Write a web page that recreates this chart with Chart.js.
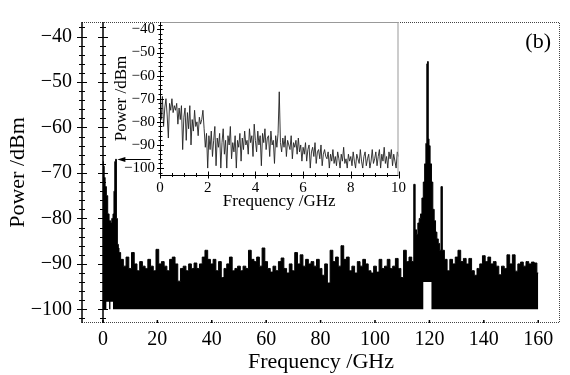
<!DOCTYPE html>
<html>
<head>
<meta charset="utf-8">
<script src="https://cdn.jsdelivr.net/npm/chart.js@4.4.1/dist/chart.umd.min.js"></script>
<style>
  body { margin: 0; background: #fff; }
  #wrap { position: relative; width: 570px; height: 375px; }
  #mainChart { position: absolute; left: 0; top: 0; }
  #insetChart { position: absolute; left: 100px; top: 8px; }
</style>
</head>
<body>
<div id="wrap">
  <canvas id="mainChart" width="570" height="375"></canvas>
  <canvas id="insetChart" width="310" height="215"></canvas>
</div>
<script>
// ---- data ----
// main spectrum, 0 - 160 GHz (dBm)
const lowBandFreq  = [0, 0.3, 0.6, 1, 1.5, 2, 2.5, 3, 3.5, 3.9, 4.2, 4.5, 4.8, 5.1, 5.5, 5.8];
const lowBandPower = [-67.5, -68.5, -71, -73, -75, -79, -80.5, -81, -80, -79, -74, -67.5, -67, -80, -85.7, -86.5];

const noiseBandAStart = 6; // 1 GHz bins, 6 .. 114 GHz
const noiseBandA = [
  -87.5, -89, -90.5, -88.5, -91, -87.5, -90, -91.5, -89.5, -90.5,
  -91, -89, -90.5, -91.5, -86.8, -90, -89.5, -90.5, -91.5, -89,
  -88.5, -90, -93.8, -91, -90.5, -91.5, -90, -91, -89.8, -91,
  -90, -88.5, -87, -89, -90, -89, -91.5, -89.5, -93, -91,
  -90, -88.5, -91.5, -91, -90.5, -91.5, -90.5, -91, -87, -89,
  -89.5, -88.5, -90.5, -86.5, -89.5, -91, -91.8, -90.5, -91.5, -89.5,
  -88.7, -91, -92, -90, -91.5, -87.5, -90, -88, -90.5, -89,
  -90, -89.5, -90.5, -89, -91, -92.5, -90, -94.2, -87, -89.5,
  -88.5, -90.5, -86, -89, -88.5, -91.5, -90.5, -92, -89.5, -90.5,
  -89, -90, -91.5, -92, -90.5, -91.8, -89, -91, -90.5, -89,
  -91, -90.5, -88.8, -91, -93, -87, -89.5, -88.5, -89.5
];

const peakFreq  = [114.5, 115, 115.5, 116, 116.5, 117, 117.5, 118, 118.5, 118.9, 119.2, 119.45, 119.7, 120, 120.5, 121, 121.5, 122, 122.5, 123, 123.5, 124, 124.5];
const peakPower = [-72.5, -82.5, -83.5, -81, -80, -79, -75.5, -72, -68, -63.5, -46, -45.5, -62.5, -64, -68, -72, -78, -80.5, -83, -84.5, -85.5, -87, -73];

const noiseBandBStart = 125; // 1 GHz bins, 125 .. 160 GHz
const noiseBandB = [
  -87, -89, -91.5, -89, -90, -88.5, -87, -89.5, -88.8, -90,
  -88.8, -91.5, -92.5, -91, -90, -88.2, -89.5, -88.5, -90, -89.5,
  -90.5, -92.4, -90.5, -91, -88, -90, -88, -91.6, -90, -89.6,
  -90.5, -89.5, -90, -89.6, -89.8, -92
];

const noiseFloor = -100;
// [from GHz, to GHz, lower edge of the filled trace]
const fillNotches = [[1.5, 2, -98.3], [3, 3.5, -98.3], [118, 120.5, -94]];

// inset spectrum, 0 - 10 GHz, 0.05 GHz bins
const insetStep = 0.05;
const insetPower = [
  -71, -79, -69, -82, -74, -70, -77, -87, -72, -75, -70, -76, -73, -75, -72, -81, -74, -79, -73, -92,
  -78, -74, -88, -76, -83, -73, -90, -79, -84, -75, -82, -80, -86, -78, -81, -79, -75, -83, -91, -85,
  -100, -86, -92, -84, -95, -88, -82, -99, -87, -91, -85, -100, -89, -83, -94, -88, -100, -86, -90, -82,
  -96, -89, -93, -86, -100, -88, -91, -85, -97, -87, -92, -84, -90, -88, -94, -83, -89, -86, -95, -81,
  -88, -93, -84, -90, -86, -99, -85, -89, -83, -92, -87, -86, -95, -84, -90, -88, -98, -86, -91, -85,
  -67, -89, -93, -87, -91, -86, -95, -88, -90, -92, -86, -96, -89, -91, -88, -94, -87, -93, -90, -97,
  -91, -94, -89, -97, -92, -90, -100, -93, -91, -95, -89, -98, -93, -92, -96, -90, -99, -94, -92, -95,
  -96, -93, -100, -94, -97, -92, -98, -95, -99, -93, -96, -100, -94, -97, -91, -98, -96, -100, -94, -97,
  -95, -99, -93, -97, -100, -94, -96, -98, -92, -97, -100, -95, -93, -99, -96, -94, -100, -97, -92, -98,
  -96, -93, -99, -95, -92, -100, -94, -97, -91, -98, -95, -100, -93, -96, -92, -99, -94, -97, -100, -93,
  -95
];

// axes
const xTickLabels = [0, 20, 40, 60, 80, 100, 120, 140, 160];
const yTickLabels = [-100, -90, -80, -70, -60, -50, -40];
const insetXTickLabels = [0, 2, 4, 6, 8, 10];
const arrowTail = { x: 17.5, y: -67 };
const arrowHead = { x: 5.3, y: -67 };

const SERIF = '"Liberation Serif", "Times New Roman", serif';
Chart.defaults.font.family = SERIF;
Chart.defaults.color = '#000';

// build points
const mainPoints = [];
lowBandFreq.forEach((f, i) => mainPoints.push({ x: f, y: lowBandPower[i] }));
noiseBandA.forEach((p, i) => mainPoints.push({ x: noiseBandAStart + i, y: p }));
peakFreq.forEach((f, i) => mainPoints.push({ x: f, y: peakPower[i] }));
noiseBandB.forEach((p, i) => mainPoints.push({ x: noiseBandBStart + i, y: p }));
const floorPoints = mainPoints.map(pt => {
  const n = fillNotches.find(b => pt.x >= b[0] && pt.x <= b[1]);
  return { x: pt.x, y: n ? n[2] : noiseFloor };
});
const insetPoints = insetPower.map((p, i) => ({ x: +(i * insetStep).toFixed(2), y: p }));

const minus = v => (v < 0 ? '\u2212' + Math.abs(v) : String(v));

// tick marks crossing a vertical axis line
function vTicks(ctx, xPix, yScale, from, to, major, minor) {
  for (let v = from; v <= to; v += 2) {
    const yp = Math.round(yScale.getPixelForValue(v)) + 0.5;
    const len = v % 10 === 0 ? major : minor;
    ctx.beginPath();
    ctx.moveTo(xPix - len, yp);
    ctx.lineTo(xPix + len, yp);
    ctx.stroke();
  }
}

const mainDeco = {
  id: 'mainDeco',
  afterDatasetsDraw(chart) {
    const { ctx, chartArea: a, scales: { x, y } } = chart;
    ctx.save();
    // dotted frame
    ctx.strokeStyle = '#444';
    ctx.lineWidth = 1;
    ctx.setLineDash([1, 1]);
    ctx.beginPath();
    ctx.moveTo(a.left, a.top + 0.5);
    ctx.lineTo(a.right - 0.5, a.top + 0.5);
    ctx.lineTo(a.right - 0.5, a.bottom - 0.5);
    ctx.lineTo(a.left, a.bottom - 0.5);
    ctx.stroke();
    ctx.setLineDash([]);

    // left axis and zero-frequency line
    ctx.strokeStyle = '#000';
    ctx.lineWidth = 1.5;
    const zx = Math.round(x.getPixelForValue(0));
    [a.left, zx].forEach(px => {
      ctx.beginPath();
      ctx.moveTo(px, a.top);
      ctx.lineTo(px, a.bottom);
      ctx.stroke();
    });
    ctx.lineWidth = 1;
    vTicks(ctx, a.left, y, -102, -38, 5, 3);
    vTicks(ctx, zx, y, -102, -38, 5, 3);

    // bottom tick dots
    ctx.lineWidth = 1.5;
    xTickLabels.forEach(v => {
      const px = x.getPixelForValue(v);
      ctx.beginPath();
      ctx.moveTo(px, a.bottom - 3);
      ctx.lineTo(px, a.bottom);
      ctx.stroke();
    });

    // arrow to the 5 GHz line
    const tx = x.getPixelForValue(arrowTail.x), ty = Math.round(y.getPixelForValue(arrowTail.y)) + 0.5;
    const hx = x.getPixelForValue(arrowHead.x);
    ctx.lineWidth = 1;
    ctx.beginPath();
    ctx.moveTo(tx, ty);
    ctx.lineTo(hx + 6, ty);
    ctx.stroke();
    ctx.fillStyle = '#000';
    ctx.beginPath();
    ctx.moveTo(hx, ty);
    ctx.lineTo(hx + 8, ty - 2.5);
    ctx.lineTo(hx + 8, ty + 2.5);
    ctx.closePath();
    ctx.fill();

    // panel label
    ctx.font = '22px ' + SERIF;
    ctx.textAlign = 'right';
    ctx.textBaseline = 'middle';
    ctx.fillText('(b)', a.right - 9, a.top + 20);
    ctx.restore();
  }
};

new Chart(document.getElementById('mainChart'), {
  type: 'line',
  data: {
    datasets: [
      { data: mainPoints, borderColor: '#000', borderWidth: 1, backgroundColor: '#000',
        fill: '+1', stepped: 'middle', pointRadius: 0 },
      { data: floorPoints, borderColor: 'rgba(0,0,0,0)', borderWidth: 1, pointRadius: 0,
        fill: false, stepped: 'middle' }
    ]
  },
  options: {
    responsive: false,
    animation: false,
    events: [],
    layout: { padding: { top: 10, right: 10, left: 0, bottom: 0 } },
    plugins: { legend: { display: false }, tooltip: { enabled: false } },
    scales: {
      x: {
        type: 'linear', min: -7.7, max: 168,
        afterBuildTicks: s => { s.ticks = xTickLabels.map(v => ({ value: v })); },
        afterFit: s => { s.height = 52; },
        grid: { display: false, drawTicks: false },
        border: { display: false },
        ticks: { font: { size: 20 }, padding: 5, maxRotation: 0, autoSkip: false },
        title: { display: true, text: 'Frequency /GHz', font: { size: 22 }, padding: { top: 0, bottom: 0 } }
      },
      y: {
        min: -103, max: -36.8,
        afterBuildTicks: s => { s.ticks = yTickLabels.map(v => ({ value: v })); },
        afterFit: s => { s.width = 82; },
        grid: { display: false, drawTicks: false },
        border: { display: false },
        ticks: { font: { size: 20 }, padding: 10, callback: v => minus(v) },
        title: { display: true, text: 'Power /dBm', font: { size: 22 }, padding: { top: 5, bottom: 0 } }
      }
    }
  },
  plugins: [mainDeco]
});

const insetDeco = {
  id: 'insetDeco',
  beforeDatasetsDraw(chart) {
    const { ctx, chartArea: a } = chart;
    ctx.save();
    ctx.fillStyle = '#fff';
    ctx.fillRect(a.left, a.top, a.right - a.left, a.bottom - a.top);
    ctx.restore();
  },
  afterDatasetsDraw(chart) {
    const { ctx, chartArea: a, scales: { x, y } } = chart;
    ctx.save();
    ctx.strokeStyle = '#999';
    ctx.lineWidth = 1;
    ctx.beginPath();
    ctx.moveTo(a.left, a.top + 0.5);
    ctx.lineTo(a.right - 0.5, a.top + 0.5);
    ctx.lineTo(a.right - 0.5, a.bottom);
    ctx.stroke();

    ctx.strokeStyle = '#000';
    ctx.beginPath();
    ctx.moveTo(a.left + 0.5, a.top);
    ctx.lineTo(a.left + 0.5, a.bottom + 0.5);
    ctx.lineTo(a.right, a.bottom + 0.5);
    ctx.stroke();
    vTicks(ctx, a.left + 0.5, y, -102, -38, 3.5, 2);
    for (let v = 0; v <= 10; v += 0.5) {
      const px = Math.round(x.getPixelForValue(v)) + 0.5;
      const len = v % 2 === 0 ? 3.5 : 2;
      ctx.beginPath();
      ctx.moveTo(px, a.bottom - len);
      ctx.lineTo(px, a.bottom + len);
      ctx.stroke();
    }
    ctx.restore();
  }
};

new Chart(document.getElementById('insetChart'), {
  type: 'line',
  data: {
    datasets: [
      { data: insetPoints, borderColor: '#222', borderWidth: 0.9, pointRadius: 0, fill: false, tension: 0 }
    ]
  },
  options: {
    responsive: false,
    animation: false,
    events: [],
    layout: { padding: { top: 9, right: 8, left: 0, bottom: 0 } },
    plugins: { legend: { display: false }, tooltip: { enabled: false } },
    scales: {
      x: {
        type: 'linear', min: 0, max: 10,
        afterBuildTicks: s => { s.ticks = insetXTickLabels.map(v => ({ value: v })); },
        afterFit: s => { s.height = 48; },
        grid: { display: false, drawTicks: false },
        border: { display: false },
        ticks: { font: { size: 15 }, padding: 4, maxRotation: 0, autoSkip: false },
        title: { display: true, text: 'Frequency /GHz', font: { size: 17 }, padding: { top: 0, bottom: 11 } }
      },
      y: {
        min: -103, max: -36.8,
        afterBuildTicks: s => { s.ticks = yTickLabels.map(v => ({ value: v })); },
        afterFit: s => { s.width = 60; },
        grid: { display: false, drawTicks: false },
        border: { display: false },
        ticks: { font: { size: 15 }, padding: 5, callback: v => minus(v) },
        title: { display: true, text: 'Power /dBm', font: { size: 17 }, padding: { top: 11, bottom: 0 } }
      }
    }
  },
  plugins: [insetDeco]
});
</script>
</body>
</html>
